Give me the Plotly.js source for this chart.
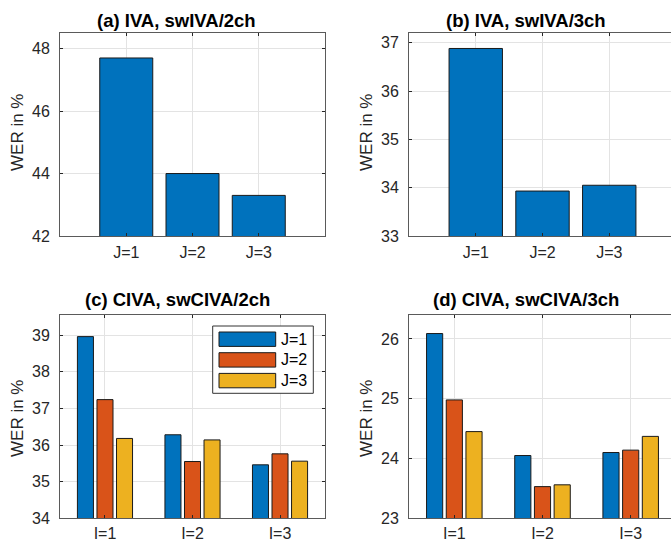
<!DOCTYPE html>
<html>
<head>
<meta charset="utf-8">
<script src="https://cdn.plot.ly/plotly-3.0.1.min.js"></script>
<style>
html,body{margin:0;padding:0;overflow:hidden;background:#fff;}
#chart{width:680px;height:541px;}
</style>
</head>
<body>
<div id="chart"></div>
<script>
// ---- data ----
const catJ = ['J=1', 'J=2', 'J=3'];
const catI = ['I=1', 'I=2', 'I=3'];
const seriesNames = ['J=1', 'J=2', 'J=3'];
const werA = [47.7, 44.0, 43.3];          // (a) IVA, swIVA/2ch
const werB = [36.88, 33.93, 34.05];       // (b) IVA, swIVA/3ch
const werC_J1 = [38.96, 36.28, 35.46];    // (c) CIVA, swCIVA/2ch
const werC_J2 = [37.24, 35.55, 35.76];
const werC_J3 = [36.18, 36.14, 35.56];
const werD_J1 = [26.09, 24.05, 24.10];    // (d) CIVA, swCIVA/3ch
const werD_J2 = [24.98, 23.53, 24.14];
const werD_J3 = [24.45, 23.56, 24.37];
const titles = ['(a) IVA, swIVA/2ch', '(b) IVA, swIVA/3ch', '(c) CIVA, swCIVA/2ch', '(d) CIVA, swCIVA/3ch'];
const yLabel = 'WER in %';

// ---- style ----
const colors = ['#0072BD', '#D95319', '#EDB120'];
const W = 680, H = 541;
const FONT = 'Liberation Sans, Arial, Helvetica, sans-serif';
const px = v => v / W;
const py = v => 1 - v / H;

const mline = {color: '#1a1a1a', width: 1};
const traces = [];
traces.push({type: 'bar', x: catJ, y: werA, xaxis: 'x', yaxis: 'y', width: 0.8,
  marker: {color: colors[0], line: mline}, showlegend: false, hoverinfo: 'x+y'});
traces.push({type: 'bar', x: catJ, y: werB, xaxis: 'x2', yaxis: 'y2', width: 0.8,
  marker: {color: colors[0], line: mline}, showlegend: false, hoverinfo: 'x+y'});
[werC_J1, werC_J2, werC_J3].forEach((v, k) => traces.push({type: 'bar', x: catI, y: v,
  xaxis: 'x3', yaxis: 'y3', name: seriesNames[k], marker: {color: colors[k], line: mline}, showlegend: false}));
[werD_J1, werD_J2, werD_J3].forEach((v, k) => traces.push({type: 'bar', x: catI, y: v,
  xaxis: 'x4', yaxis: 'y4', name: seriesNames[k], marker: {color: colors[k], line: mline}, showlegend: false}));

const axBase = {
  showline: true, linecolor: '#5a5a5a', linewidth: 1, mirror: 'ticks',
  ticks: 'inside', ticklen: 3, tickcolor: '#262626', tickwidth: 1,
  showgrid: true, gridcolor: '#e3e3e3', gridwidth: 1, zeroline: false,
  tickfont: {family: FONT, size: 16, color: '#262626'}, fixedrange: true
};
const xa = (d, r, so) => Object.assign({}, axBase, {domain: d, range: r, type: 'category', ticklabelstandoff: so});
const ya = (d, r, dt) => Object.assign({}, axBase, {domain: d, range: r, dtick: dt, tick0: 0, ticklabelstandoff: 6});

const dxL = [px(60), px(325)], dxR = [px(409), px(676)];
const dyT = [py(236), py(33)], dyB = [py(518.3), py(315)];

const annotations = [];
const titlePos = [[176, 20], [526, 20], [177, 299], [526, 299]];
titles.forEach((t, i) => annotations.push({text: '<b>' + t + '</b>', xref: 'paper', yref: 'paper',
  x: px(titlePos[i][0]), y: py(titlePos[i][1]), xanchor: 'center', yanchor: 'middle', showarrow: false,
  font: {family: FONT, size: 18.5, color: '#000'}}));
const ylabPos = [[17, 133], [366, 133], [17, 419], [366, 419]];
ylabPos.forEach(p => annotations.push({text: yLabel, xref: 'paper', yref: 'paper', textangle: -90,
  x: px(p[0]), y: py(p[1]), xanchor: 'center', yanchor: 'middle', showarrow: false,
  font: {family: FONT, size: 17, color: '#262626'}}));

// legend for panel (c), built from series names/colors
const shapes = [];
shapes.push({type: 'rect', xref: 'paper', yref: 'paper', x0: px(212.7), x1: px(313.3), y0: py(393.3), y1: py(326),
  line: {color: '#333', width: 1}, fillcolor: '#fff', layer: 'above'});
seriesNames.forEach((n, k) => {
  const cy = 339.2 + k * 20.7;
  shapes.push({type: 'rect', xref: 'paper', yref: 'paper', x0: px(219), x1: px(275.7), y0: py(cy + 7.2), y1: py(cy - 7.2),
    line: {color: '#1a1a1a', width: 1}, fillcolor: colors[k], layer: 'above'});
  annotations.push({text: n, xref: 'paper', yref: 'paper', x: px(278.5), y: py(cy), xanchor: 'left', yanchor: 'middle',
    showarrow: false, font: {family: FONT, size: 16, color: '#000'}});
});

const layout = {
  width: W, height: H, margin: {l: 0, r: 0, t: 0, b: 0},
  paper_bgcolor: '#fff', plot_bgcolor: '#fff',
  barmode: 'group', bargap: 0.33, bargroupgap: 0.18,
  font: {family: FONT},
  xaxis: xa(dxL, [-1, 3], 2), yaxis: ya(dyT, [42, 48.5], 2),
  xaxis2: xa(dxR, [-1, 3], 2), yaxis2: ya(dyT, [33, 37.2], 1),
  xaxis3: xa(dxL, [-0.514, 2.514], 0), yaxis3: ya(dyB, [34, 39.55], 1),
  xaxis4: xa(dxR, [-0.514, 2.514], 0), yaxis4: ya(dyB, [23, 26.4], 1),
  annotations: annotations, shapes: shapes, showlegend: false
};
layout.xaxis.anchor = 'y'; layout.yaxis.anchor = 'x';
layout.xaxis2.anchor = 'y2'; layout.yaxis2.anchor = 'x2';
layout.xaxis3.anchor = 'y3'; layout.yaxis3.anchor = 'x3';
layout.xaxis4.anchor = 'y4'; layout.yaxis4.anchor = 'x4';

Plotly.newPlot('chart', traces, layout, {staticPlot: true, displayModeBar: false});
</script>
</body>
</html>
